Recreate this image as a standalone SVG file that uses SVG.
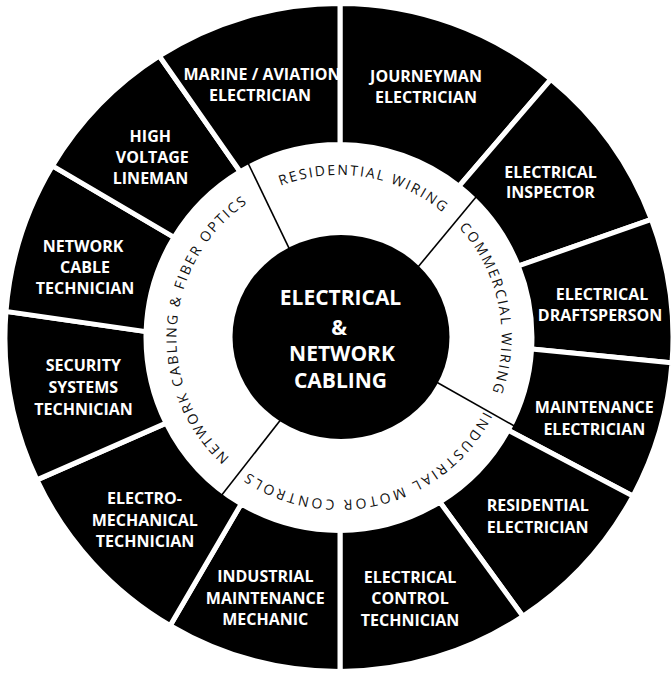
<svg xmlns="http://www.w3.org/2000/svg" width="671" height="673" viewBox="0 0 671 673">
<style>
.seg{fill:#000;stroke:#fff;stroke-width:5;}
.lbl{font-family:"Open Sans","Liberation Sans",sans-serif;font-weight:700;font-size:16px;fill:#fff;text-anchor:middle;}
.ring{fill:#fff;}
.rt{font-family:"Open Sans","Liberation Sans",sans-serif;font-weight:400;font-size:14px;fill:#111;letter-spacing:2px;text-anchor:middle;}
.dv{stroke:#000;stroke-width:1.6;fill:none;}
.ctr{font-family:"Open Sans","Liberation Sans",sans-serif;font-weight:700;font-size:21px;fill:#fff;text-anchor:middle;}
</style>
<defs>
<path id="arc-res" d="M185.9,283 A162.5,162.5 0 0 1 501.5,336.4"/>
<path id="arc-com" d="M335.6,175 A162.5,162.5 0 0 1 397.8,489"/>
<path id="arc-ind" d="M501.1,325.9 A162.5,162.5 0 0 1 190.7,403.9"/>
<path id="arc-net" d="M298.9,495 A162.5,162.5 0 0 1 322.9,175.8"/>
</defs>
<rect width="671" height="673" fill="#fff"/>

<g id="journeyman-electrician">
<path class="seg" d="M340,144.5 L340,3.5 A334,334 0 0 1 550.9,79.3 L458.9,186.3 A193,193 0 0 0 340,144.5 Z"/>
<text class="lbl" x="426" y="82">JOURNEYMAN</text>
<text class="lbl" x="426" y="102.5">ELECTRICIAN</text>
</g>
<g id="electrical-inspector">
<path class="seg" d="M458.9,186.3 L550.9,79.3 A334,334 0 0 1 651.4,219.3 L518.3,266 A193,193 0 0 0 458.9,186.3 Z"/>
<text class="lbl" x="550.5" y="177.5">ELECTRICAL</text>
<text class="lbl" x="550.5" y="198">INSPECTOR</text>
</g>
<g id="electrical-draftsperson">
<path class="seg" d="M518.3,266 L651.4,219.3 A334,334 0 0 1 672,362.8 L531.6,348.9 A193,193 0 0 0 518.3,266 Z"/>
<text class="lbl" x="602" y="300">ELECTRICAL</text>
<text class="lbl" x="600" y="320.5">DRAFTSPERSON</text>
</g>
<g id="maintenance-electrician">
<path class="seg" d="M531.6,348.9 L672,362.8 A334,334 0 0 1 633,496.1 L508.2,430.3 A193,193 0 0 0 531.6,348.9 Z"/>
<text class="lbl" x="594.3" y="413.3">MAINTENANCE</text>
<text class="lbl" x="594.3" y="435.3">ELECTRICIAN</text>
</g>
<g id="residential-electrician">
<path class="seg" d="M508.2,430.3 L633,496.1 A334,334 0 0 1 522.9,616.3 L439.8,502 A193,193 0 0 0 508.2,430.3 Z"/>
<text class="lbl" x="537.7" y="511">RESIDENTIAL</text>
<text class="lbl" x="537.7" y="532.7">ELECTRICIAN</text>
</g>
<g id="electrical-control-technician">
<path class="seg" d="M439.8,502 L522.9,616.3 A334,334 0 0 1 340,671.5 L340,530.5 A193,193 0 0 0 439.8,502 Z"/>
<text class="lbl" x="410" y="582.7">ELECTRICAL</text>
<text class="lbl" x="410" y="604.3">CONTROL</text>
<text class="lbl" x="410" y="625.8">TECHNICIAN</text>
</g>
<g id="industrial-maintenance-mechanic">
<path class="seg" d="M340,530.5 L340,671.5 A334,334 0 0 1 170.2,625.6 L241.2,503.9 A193,193 0 0 0 340,530.5 Z"/>
<text class="lbl" x="265.3" y="582">INDUSTRIAL</text>
<text class="lbl" x="265.3" y="603.5">MAINTENANCE</text>
<text class="lbl" x="265.3" y="625.3">MECHANIC</text>
</g>
<g id="electro-mechanical-technician">
<path class="seg" d="M241.2,503.9 L170.2,625.6 A334,334 0 0 1 36.9,479.9 L166.1,423.1 A193,193 0 0 0 241.2,503.9 Z"/>
<text class="lbl" x="144.5" y="504.3">ELECTRO-</text>
<text class="lbl" x="144.7" y="525.5">MECHANICAL</text>
<text class="lbl" x="145" y="546.5">TECHNICIAN</text>
</g>
<g id="security-systems-technician">
<path class="seg" d="M166.1,423.1 L36.9,479.9 A334,334 0 0 1 6,311.4 L146.1,331.6 A193,193 0 0 0 166.1,423.1 Z"/>
<text class="lbl" x="83.3" y="371">SECURITY</text>
<text class="lbl" x="83.3" y="393.3">SYSTEMS</text>
<text class="lbl" x="83.5" y="415.3">TECHNICIAN</text>
</g>
<g id="network-cable-technician">
<path class="seg" d="M146.1,331.6 L6,311.4 A334,334 0 0 1 52.5,165.8 L174.1,237.4 A193,193 0 0 0 146.1,331.6 Z"/>
<text class="lbl" x="83" y="251.5">NETWORK</text>
<text class="lbl" x="85" y="272.5">CABLE</text>
<text class="lbl" x="85" y="293.5">TECHNICIAN</text>
</g>
<g id="high-voltage-lineman">
<path class="seg" d="M174.1,237.4 L52.5,165.8 A334,334 0 0 1 159.3,56 L240.2,171.7 A193,193 0 0 0 174.1,237.4 Z"/>
<text class="lbl" x="150.3" y="141.7">HIGH</text>
<text class="lbl" x="152.3" y="162.7">VOLTAGE</text>
<text class="lbl" x="150.5" y="184">LINEMAN</text>
</g>
<g id="marine-aviation-electrician">
<path class="seg" d="M240.2,171.7 L159.3,56 A334,334 0 0 1 340,3.5 L340,144.5 A193,193 0 0 0 240.2,171.7 Z"/>
<text class="lbl" x="262" y="80">MARINE / AVIATION</text>
<text class="lbl" x="260" y="100.5">ELECTRICIAN</text>
</g>

<g id="ring-residential-wiring">
<path class="ring" d="M293.6,248.4 L252.7,168.2 A190,190 0 0 1 468.6,198.5 L407.2,264.4 A100,100 0 0 0 293.6,248.4 Z"/>
<text class="rt"><textPath href="#arc-res" startOffset="50%">RESIDENTIAL WIRING</textPath></text>
</g>
<g id="ring-commercial-wiring">
<path class="ring" d="M407.2,264.4 L468.6,198.5 A190,190 0 0 1 509.8,420.8 L428.9,381.3 A100,100 0 0 0 407.2,264.4 Z"/>
<text class="rt"><textPath href="#arc-com" startOffset="50%">COMMERCIAL WIRING</textPath></text>
</g>
<g id="ring-industrial-motor-controls">
<path class="ring" d="M428.9,381.3 L509.8,420.8 A190,190 0 0 1 227.3,491.2 L280.2,418.4 A100,100 0 0 0 428.9,381.3 Z"/>
<text class="rt" style="letter-spacing:2.7px"><textPath href="#arc-ind" startOffset="50%">INDUSTRIAL MOTOR CONTROLS</textPath></text>
</g>
<g id="ring-network-cabling-fiber-optics">
<path class="ring" d="M280.2,418.4 L227.3,491.2 A190,190 0 0 1 252.7,168.2 L293.6,248.4 A100,100 0 0 0 280.2,418.4 Z"/>
<text class="rt"><textPath href="#arc-net" startOffset="50%">NETWORK CABLING &amp; FIBER OPTICS</textPath></text>
</g>

<g id="ring-dividers">
<line class="dv" x1="248" y1="163" x2="292" y2="254.3"/>
<line class="dv" x1="477.7" y1="195" x2="409.7" y2="277"/>
<line class="dv" x1="514.3" y1="426" x2="426.2" y2="376.2"/>
<line class="dv" x1="221.8" y1="495.1" x2="283.6" y2="415.9"/>
</g>

<g id="center-electrical-network-cabling">
<ellipse cx="341" cy="337" rx="108.5" ry="102" fill="#000"/>
<text class="ctr" x="340.5" y="305">ELECTRICAL</text>
<text class="ctr" x="339" y="334.5">&amp;</text>
<text class="ctr" x="342" y="361">NETWORK</text>
<text class="ctr" x="340.5" y="388">CABLING</text>
</g>
</svg>
